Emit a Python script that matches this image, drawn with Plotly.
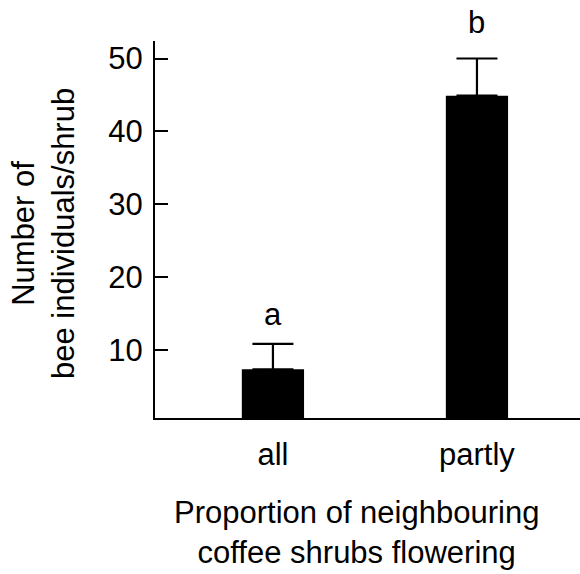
import plotly.graph_objects as go

# Bee visits per coffee shrub, by flowering status of neighbouring shrubs
categories = ["all", "partly"]
mean_bees = [7.4, 44.9]
se_bees = [3.5, 5.1]
group_letters = ["a", "b"]
y_ticks = [10, 20, 30, 40, 50]

FONT = "Liberation Sans, Arial, sans-serif"
FS = 31

fig = go.Figure()
fig.add_trace(go.Bar(
    x=categories,
    y=mean_bees,
    width=0.305,
    marker=dict(color="black", line=dict(color="black", width=0)),
    error_y=dict(type="data", array=se_bees, arrayminus=[0] * len(se_bees),
                 symmetric=False, color="black", thickness=2.2, width=20.5),
    showlegend=False,
))

# significance letters above each error bar
for cat, m, s, lab, shift in zip(categories, mean_bees, se_bees, group_letters, [10, 17]):
    fig.add_annotation(x=cat, y=m + s, text=lab, showarrow=False,
                       yanchor="bottom", yshift=shift,
                       font=dict(family=FONT, size=FS, color="black"))

# axis titles
fig.add_annotation(xref="paper", yref="paper", x=-0.264, y=0.49,
                   text="Number of<br>bee individuals/shrub", textangle=-90,
                   showarrow=False, xanchor="center", yanchor="middle",
                   font=dict(family=FONT, size=FS, color="black"))
fig.add_annotation(xref="paper", yref="paper", x=0.475, y=-0.2,
                   text="Proportion of neighbouring<br>coffee shrubs flowering",
                   showarrow=False, xanchor="center", yanchor="top",
                   font=dict(family=FONT, size=FS, color="black"))

fig.update_layout(
    width=580, height=574,
    margin=dict(l=155, r=0, t=41, b=156),
    paper_bgcolor="white", plot_bgcolor="white",
    font=dict(family=FONT, size=FS, color="black"),
    xaxis=dict(type="category", range=[-0.578, 1.505], showline=True,
               linecolor="black", linewidth=2, ticks="", showgrid=False,
               zeroline=False, tickfont=dict(family=FONT, size=FS),
               ticklabelstandoff=8),
    yaxis=dict(range=[0.73, 52.4], tickvals=y_ticks, showline=True,
               linecolor="black", linewidth=2, ticks="inside", ticklen=13,
               tickwidth=2, tickcolor="black", showgrid=False, zeroline=False,
               tickfont=dict(family=FONT, size=FS), ticklabelstandoff=4),
)

fig.write_html("out.html")
